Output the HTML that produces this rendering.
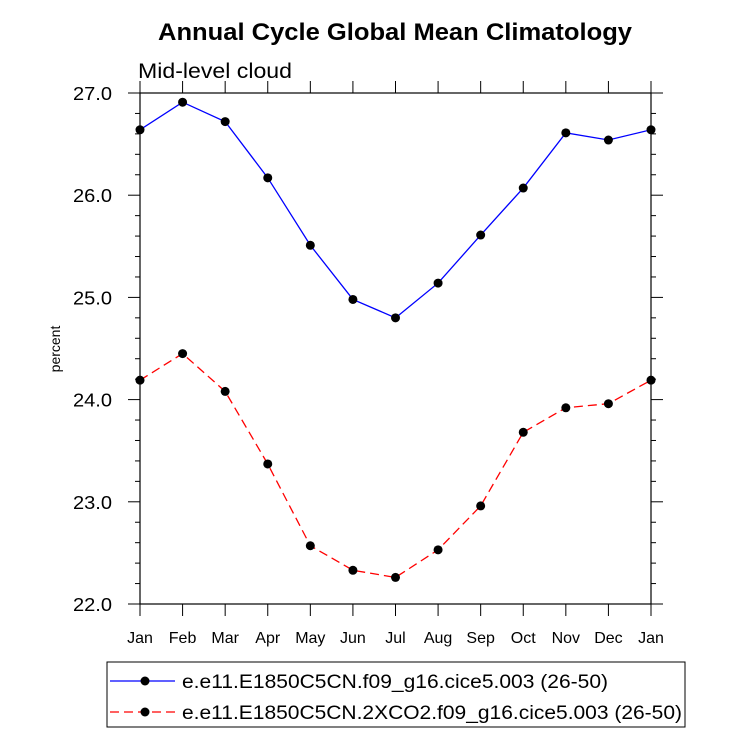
<!DOCTYPE html>
<html><head><meta charset="utf-8"><style>
body{margin:0;background:#fff}
svg{display:block;font-family:"Liberation Sans",sans-serif}
</style></head><body>
<svg id="chart" width="733" height="737">
<text x="158" y="40" textLength="474" lengthAdjust="spacingAndGlyphs" font-size="24" font-weight="bold">Annual Cycle Global Mean Climatology</text>
<text x="138" y="78" textLength="154" lengthAdjust="spacingAndGlyphs" font-size="21">Mid-level cloud</text>
<text transform="translate(60,349) rotate(-90)" text-anchor="middle" font-size="14">percent</text>
<g id="axes"></g>
<g id="series"></g>
<rect x="107" y="662" width="578" height="65" fill="none" stroke="#000" stroke-width="1"/>
<g>
<line x1="110" y1="681" x2="175" y2="681" stroke="#0000ff" stroke-width="1.3"/>
<circle cx="145" cy="681" r="4.5" fill="#000"/>
<text x="182" y="688" textLength="426" lengthAdjust="spacingAndGlyphs" font-size="19">e.e11.E1850C5CN.f09_g16.cice5.003 (26-50)</text>
</g>
<g>
<line x1="110" y1="712" x2="175" y2="712" stroke="#ff0000" stroke-width="1.3" stroke-dasharray="9,5"/>
<circle cx="145" cy="712" r="4.5" fill="#000"/>
<text x="182" y="719" textLength="500" lengthAdjust="spacingAndGlyphs" font-size="19">e.e11.E1850C5CN.2XCO2.f09_g16.cice5.003 (26-50)</text>
</g>
</svg>
<script>
const months=["Jan","Feb","Mar","Apr","May","Jun","Jul","Aug","Sep","Oct","Nov","Dec","Jan"];
const controlValues=[26.64,26.91,26.72,26.17,25.51,24.98,24.80,25.14,25.61,26.07,26.61,26.54,26.64];
const co2Values=[24.19,24.45,24.08,23.37,22.57,22.33,22.26,22.53,22.96,23.68,23.92,23.96,24.19];
const yTicks=["22.0","23.0","24.0","25.0","26.0","27.0"];
const NS="http://www.w3.org/2000/svg";
const L=140,R=651,T=93,B=604,yMin=22,yMax=27;
const xs=i=>L+(R-L)*i/(months.length-1);
const ys=v=>B-(B-T)*(v-yMin)/(yMax-yMin);
function mk(tag,attrs,parent){const e=document.createElementNS(NS,tag);for(const k in attrs)e.setAttribute(k,attrs[k]);parent.appendChild(e);return e;}
const ax=document.getElementById('axes');
const frame=mk('rect',{x:L,y:T,width:R-L,height:B-T,fill:'none',stroke:'#000','stroke-width':1.2},ax);


for(let v=yMin;v<=yMax+1e-9;v+=0.2){
  const y=ys(v);const major=Math.abs(v-Math.round(v))<1e-6;const len=major?12:5;
  mk('line',{x1:L,y1:y,x2:L-len,y2:y,stroke:'#000'},ax);
  mk('line',{x1:R,y1:y,x2:R+len,y2:y,stroke:'#000'},ax);
}
yTicks.forEach(t=>{
  const tx=mk('text',{x:73,y:ys(parseFloat(t))+7,textLength:39,lengthAdjust:'spacingAndGlyphs','font-size':18.5},ax);
  tx.textContent=t;
  
  
});
months.forEach((m,i)=>{
  const x=xs(i);
  mk('line',{x1:x,y1:B,x2:x,y2:B+12,stroke:'#000'},ax);
  mk('line',{x1:x,y1:T,x2:x,y2:T-12,stroke:'#000'},ax);
  const tx=mk('text',{x:x,y:B+39,'text-anchor':'middle','font-size':16},ax);
  tx.textContent=m;
  
  
});
const sg=document.getElementById('series');
function series(vals,color,dash,name){
  const g=mk('g',{},sg);
  
  
  mk('polyline',{points:vals.map((v,i)=>xs(i)+','+ys(v)).join(' '),fill:'none',stroke:color,'stroke-width':1.3,'stroke-dasharray':dash},g);
  vals.forEach((v,i)=>{
    const c=mk('circle',{cx:xs(i),cy:ys(v),r:4.5,fill:'#000'},g);
    
    
  });
}
series(controlValues,'#0000ff','none','control-series');
series(co2Values,'#ff0000','9,5','co2-series');
</script>
</body></html>
